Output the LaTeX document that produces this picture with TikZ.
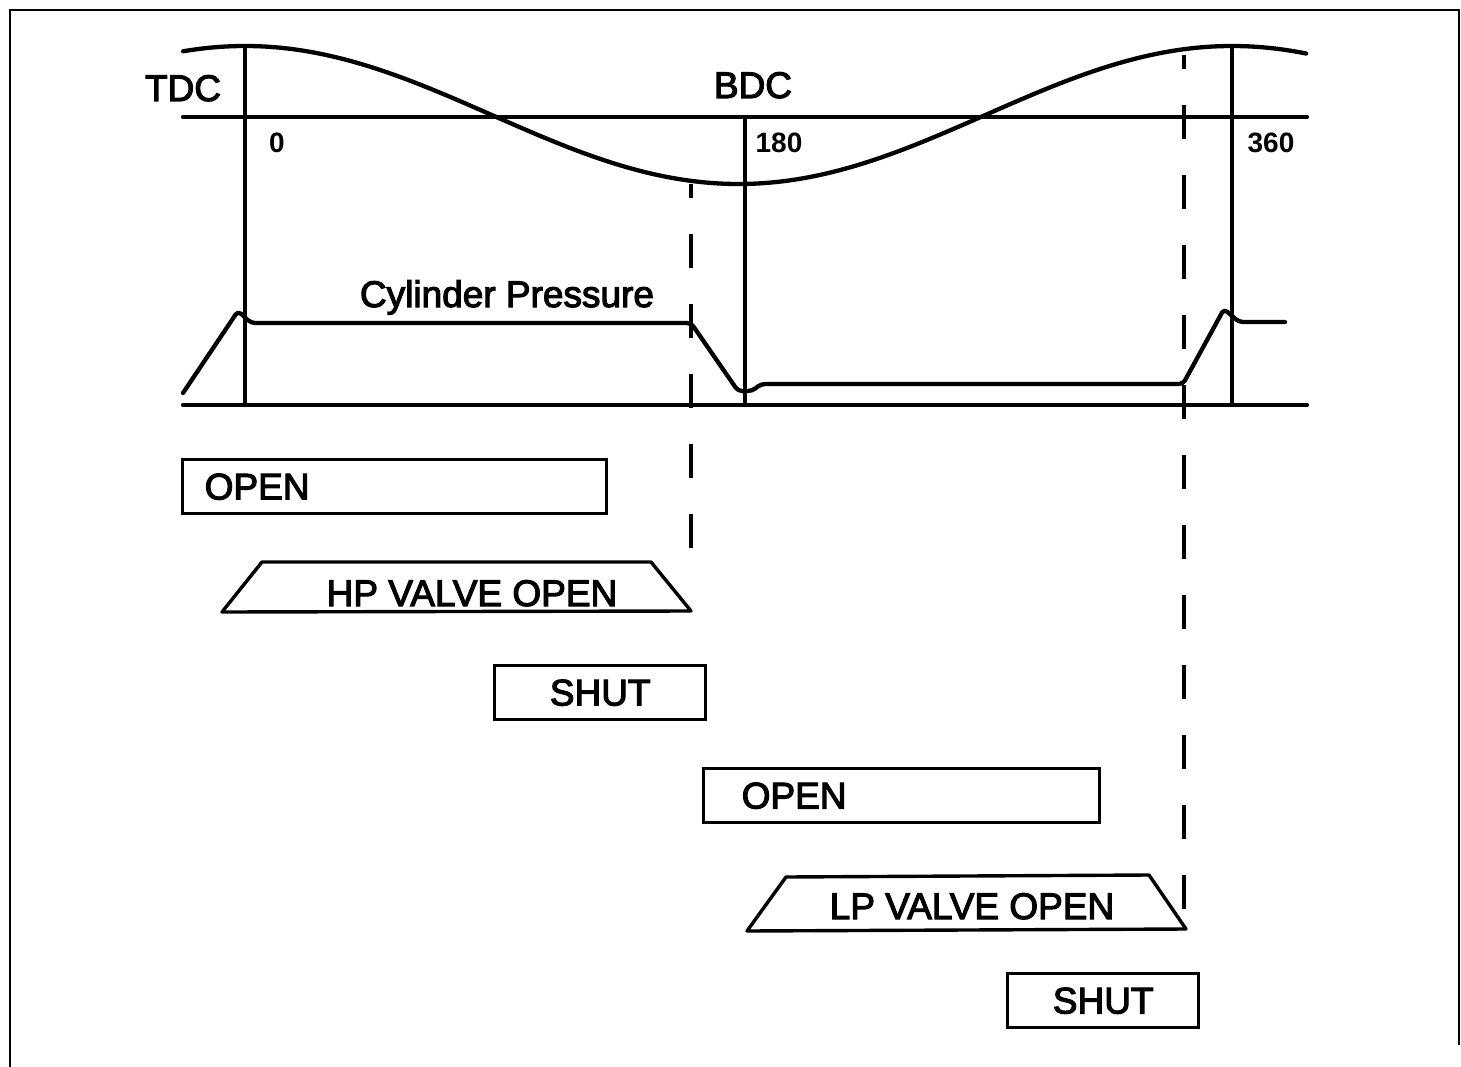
\documentclass[tikz,border=0pt]{standalone}
\usepackage{fontspec}
\setmainfont{Liberation Sans}
\newfontfamily\heavyfont{Liberation Sans}[FakeBold=3]
\begin{document}
\begin{tikzpicture}[x=1pt,y=-1pt,
  heavy/.style={line width=4.3, line cap=round, line join=round},
  dashv/.style={line width=4.3, dash pattern=on 34 off 36},
  boxstyle/.style={draw, line width=3.4, inner ysep=0, minimum height=54, anchor=north west, font=\heavyfont\fontsize{37}{40}\selectfont},
  lbl/.style={inner sep=0, anchor=base, font=\heavyfont\fontsize{37}{40}\selectfont},
  num/.style={inner sep=0, anchor=base, font=\bfseries\fontsize{28}{30}\selectfont}]
\useasboundingbox (0,0) rectangle (1461,1067);
% frame
\draw[line width=2.5] (10,1067) -- (10,10) -- (1459,10) -- (1459,1045);
% crank curve
\draw[heavy] plot[domain=-22.6:387, samples=120, smooth] ({245+2.742*\x},{115-69*cos(\x)});
% axes
\draw[heavy] (183,117) -- (1307,117);
\draw[heavy] (183,405) -- (1307,405);
% TDC / BDC verticals
\coordinate (t0) at (245,46);
\coordinate (t0b) at (245,405);
\coordinate (b0) at (745,117);
\coordinate (b0b) at (745,405);
\coordinate (t1) at (1232,46);
\coordinate (t1b) at (1232,405);
\draw[heavy] (t0) -- (t0b);
\draw[heavy] (b0) -- (b0b);
\draw[heavy] (t1) -- (t1b);
% dashed verticals
\coordinate (d1a) at (691,184);
\coordinate (d1b) at (691,549);
\coordinate (d2a) at (1184,55);
\coordinate (d2b) at (1184,910);
\draw[dashv, dash phase=20] (d1a) -- (d1b);
\draw[dashv, dash phase=20] (d2a) -- (d2b);
% cylinder pressure
\draw[heavy, rounded corners=4] (183,393) -- (238,311) -- (251,323) -- (691,323) -- (738,391) -- (752,391) -- (761,384) -- (1183,384) -- (1224,309) -- (1239,322) -- (1285,322);
% labels
\node[lbl] (tdc) at (183,101) {TDC};
\node[lbl] (bdc) at (753,98) {BDC};
\node[num] (n0) at (277,153) {0};
\node[num] (n180) at (779,153) {180};
\node[num] (n360) at (1271,153) {360};
\node[lbl] (cp) at (507,307) {Cylinder Pressure};
% boxes
\node[boxstyle, inner xsep=22, text width=380, align=left] (open1) at (181,458) {OPEN};
\node[boxstyle, minimum width=211] (shut1) at (493,664) {SHUT};
\node[boxstyle, inner xsep=38, text width=320, align=left] (open2) at (702,767) {OPEN};
\node[boxstyle, minimum width=191] (shut2) at (1006,972) {SHUT};
% trapezoids
\draw[line width=3.4, line join=round] (222,612) -- (262,562) -- (651,562) -- (691,611) -- cycle;
\node[lbl] (hp) at (472,606) {HP VALVE OPEN};
\draw[line width=3.4, line join=round] (747,931) -- (786,877) -- (1149,875) -- (1186,929) -- cycle;
\node[lbl] (lp) at (972,919) {LP VALVE OPEN};
\end{tikzpicture}
\end{document}
